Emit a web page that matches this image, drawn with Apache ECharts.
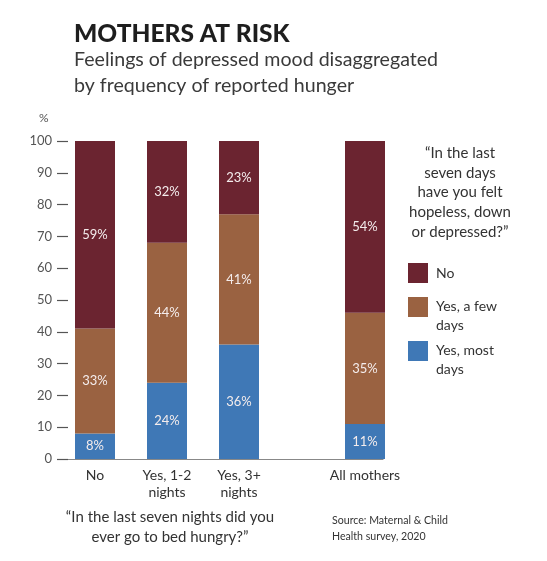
<!DOCTYPE html>
<html><head><meta charset="utf-8">
<script src="https://cdn.jsdelivr.net/npm/echarts@6/dist/echarts.min.js"></script>
<style>html,body{margin:0;padding:0;background:#fff}#c{width:547px;height:561px}</style>
</head><body><div id="c"></div>
<script>
// ---- data ----
const categories = ['No', 'Yes, 1-2\nnights', 'Yes, 3+\nnights', 'All mothers'];
const seriesNames = ['Yes, most days', 'Yes, a few days', 'No'];
const mostDays = [8, 24, 36, 11];
const fewDays = [33, 44, 41, 35];
const noDays = [59, 32, 23, 54];
const legendLines = {'No': ['No'], 'Yes, a few days': ['Yes, a few', 'days'], 'Yes, most days': ['Yes, most', 'days']};

// ---- layout helpers (slot positions on a fine category axis) ----
const slotCount = 36;
const slots = [3, 11, 19, 33];
function pad(arr) { const out = new Array(slotCount).fill('-'); slots.forEach((s, i) => out[s] = arr[i]); return out; }
const xLabels = new Array(slotCount).fill(''); slots.forEach((s, i) => xLabels[s] = categories[i]);

const FONT = 'Lato';
const colors = ['#3f78b6', '#9a6241', '#6b2430'];
const chart = echarts.init(document.getElementById('c'));

function barSeries(name, data, color) {
  return {
    name: name, type: 'bar', stack: 'all', barWidth: 40, data: pad(data),
    itemStyle: {color: color},
    label: {show: true, position: 'inside', formatter: '{c}%', color: '#f4ecec', fontSize: 13, fontFamily: FONT},
    emphasis: {disabled: true}
  };
}
const legendText = {fontSize: 14, color: '#333', fontFamily: FONT, padding: [0, 0, 0, 3]};
function legendFor(name, top) {
  return {
    data: [name], left: 408, top: top, orient: 'vertical', padding: 0,
    itemWidth: 20, itemHeight: 20, icon: 'rect', selectedMode: false,
    formatter: n => {
      const ls = legendLines[n];
      return ls.length === 1 ? '{s|' + ls[0] + '}' : '{a|' + ls[0] + '}\n{b|' + ls[1] + '}';
    },
    textStyle: {
      fontSize: 14, color: '#333', fontFamily: FONT,
      rich: {
        s: Object.assign({lineHeight: 18}, legendText),
        a: Object.assign({lineHeight: 36}, legendText),
        b: Object.assign({lineHeight: 2}, legendText)
      }
    }
  };
}

chart.setOption({
  animation: false,
  title: [{
    text: 'MOTHERS AT RISK', left: 74, top: 21, padding: 0,
    textStyle: {fontSize: 24.5, fontWeight: 900, color: '#1e1e1e', fontFamily: FONT, lineHeight: 26}
  }, {
    text: 'Feelings of depressed mood disaggregated\nby frequency of reported hunger', left: 74, top: 47, padding: 0,
    textStyle: {fontSize: 19.6, fontWeight: 'normal', color: '#3a3a3a', fontFamily: FONT, lineHeight: 26}
  }],
  grid: {left: 68, top: 141, width: 315, height: 318, containLabel: false},
  xAxis: {
    type: 'category', data: xLabels, boundaryGap: false,
    axisLine: {show: true, lineStyle: {color: '#888', width: 1.2}},
    axisTick: {show: false},
    axisLabel: {interval: 0, margin: 8, fontSize: 14, lineHeight: 17, color: '#333', fontFamily: FONT}
  },
  yAxis: {
    type: 'value', min: 0, max: 100, interval: 10,
    axisLine: {show: false},
    axisTick: {show: true, length: 11, lineStyle: {color: '#555', width: 1.2}},
    splitLine: {show: false},
    axisLabel: {margin: 16, fontSize: 13, color: '#555', fontFamily: FONT}
  },
  legend: [legendFor('No', 263), legendFor('Yes, a few days', 297), legendFor('Yes, most days', 341)],
  series: [barSeries(seriesNames[0], mostDays, colors[0]), barSeries(seriesNames[1], fewDays, colors[1]), barSeries(seriesNames[2], noDays, colors[2])],
  graphic: [
    {type: 'text', left: 39, top: 112, style: {text: '%', fontSize: 12, fill: '#555', fontFamily: FONT}},
    {type: 'text', x: 460, y: 143, style: {text: '\u201cIn the last\nseven days\nhave you felt\nhopeless, down\nor depressed?\u201d', align: 'center', verticalAlign: 'top', fontSize: 15, lineHeight: 19.8, fill: '#333', fontFamily: FONT}},
    {type: 'text', x: 170, y: 507, style: {text: '\u201cIn the last seven nights did you\never go to bed hungry?\u201d', align: 'center', verticalAlign: 'top', fontSize: 15, lineHeight: 20, fill: '#333', fontFamily: FONT}},
    {type: 'text', x: 332, y: 513, style: {text: 'Source: Maternal & Child\nHealth survey, 2020', align: 'left', verticalAlign: 'top', fontSize: 10.6, lineHeight: 16, fill: '#333', fontFamily: FONT}}
  ]
});
</script>
</body></html>
